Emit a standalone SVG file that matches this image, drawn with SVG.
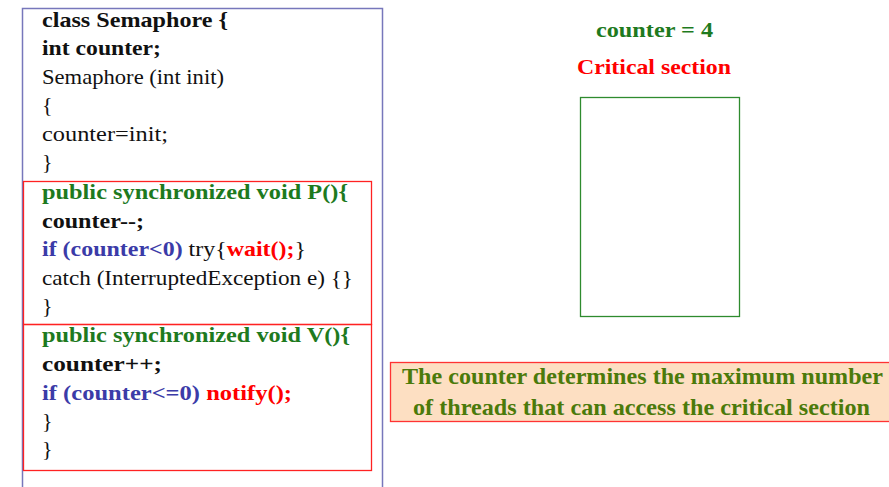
<svg xmlns="http://www.w3.org/2000/svg" width="889" height="487" viewBox="0 0 889 487">
<style>
.code{font-family:"Liberation Serif","Times New Roman",serif;font-size:22px;fill:#111}
.b{font-weight:bold}
.g{fill:#1E7A1E}
.bl{fill:#3B3BA8}
.r{fill:#FF0000}
.note{font-family:"Liberation Serif","Times New Roman",serif;font-size:23px;font-weight:bold;fill:#4B7A0A}
</style>
<rect width="889" height="487" fill="#ffffff"/>
<g id="code-box">
<rect x="22.5" y="8.5" width="360" height="490" fill="none" stroke="#7777BB" stroke-width="1.5"/>
<text class="code b" x="42" y="27" textLength="186" lengthAdjust="spacingAndGlyphs">class Semaphore {</text>
<text class="code b" x="42" y="55" textLength="119" lengthAdjust="spacingAndGlyphs">int counter;</text>
<text class="code" x="42" y="84" textLength="182" lengthAdjust="spacingAndGlyphs">Semaphore (int init)</text>
<text class="code" x="42" y="112">{</text>
<text class="code" x="42" y="141" textLength="126" lengthAdjust="spacingAndGlyphs">counter=init;</text>
<text class="code" x="42" y="169">}</text>
</g>
<g id="p-method">
<rect x="23.5" y="181.5" width="348" height="143" fill="none" stroke="#FF2222" stroke-width="1.3"/>
<text class="code b g" x="42" y="199" textLength="306" lengthAdjust="spacingAndGlyphs">public synchronized void P(){</text>
<text class="code b" x="42" y="228" textLength="102" lengthAdjust="spacingAndGlyphs">counter--;</text>
<text class="code" x="42" y="256" textLength="264" lengthAdjust="spacingAndGlyphs"><tspan class="bl b">if (counter&lt;0)</tspan> try{<tspan class="r b">wait();</tspan>}</text>
<text class="code" x="42" y="285" textLength="311" lengthAdjust="spacingAndGlyphs">catch (InterruptedException e) {}</text>
<text class="code" x="42" y="313">}</text>
</g>
<g id="v-method">
<rect x="23.5" y="324.5" width="348" height="146" fill="none" stroke="#FF2222" stroke-width="1.3"/>
<text class="code b g" x="42" y="342" textLength="308" lengthAdjust="spacingAndGlyphs">public synchronized void V(){</text>
<text class="code b" x="42" y="371" textLength="120" lengthAdjust="spacingAndGlyphs">counter++;</text>
<text class="code" x="42" y="400" textLength="250" lengthAdjust="spacingAndGlyphs"><tspan class="bl b">if (counter&lt;=0)</tspan> <tspan class="r b">notify();</tspan></text>
<text class="code" x="42" y="428">}</text>
<text class="code" x="42" y="456">}</text>
</g>
<g id="counter-label">
<text class="code b g" x="596" y="37" textLength="117" lengthAdjust="spacingAndGlyphs">counter = 4</text>
</g>
<g id="critical-section">
<text class="code b r" x="577" y="74" textLength="154" lengthAdjust="spacingAndGlyphs">Critical section</text>
<rect x="580.5" y="97.5" width="159" height="219" fill="none" stroke="#2E8B2E" stroke-width="1.3"/>
</g>
<g id="note">
<rect x="390.5" y="362.5" width="500" height="59" fill="#FDDFC2" stroke="#FF3333" stroke-width="1.3"/>
<text class="note" x="402" y="384" textLength="481" lengthAdjust="spacingAndGlyphs">The counter determines the maximum number</text>
<text class="note" x="413" y="415" textLength="457" lengthAdjust="spacingAndGlyphs">of threads that can access the critical section</text>
</g>
<g id="connectors"/>
</svg>
